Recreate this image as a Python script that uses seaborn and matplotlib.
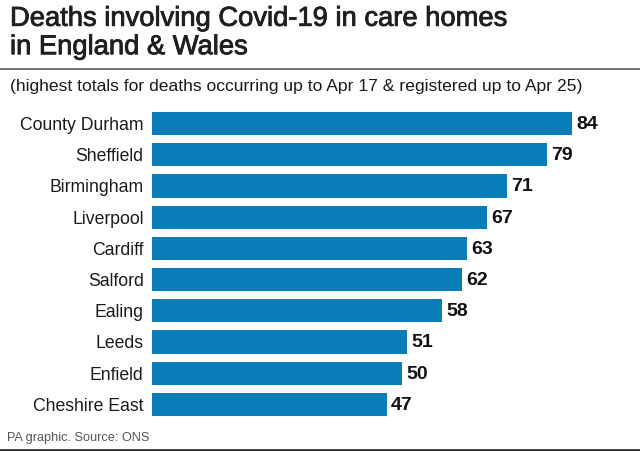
import matplotlib
matplotlib.use('Agg')
import matplotlib.pyplot as plt
import matplotlib.patheffects as pe
import seaborn as sns
import pandas as pd

areas = ['County Durham', 'Sheffield', 'Birmingham', 'Liverpool', 'Cardiff', 'Salford', 'Ealing', 'Leeds', 'Enfield', 'Cheshire East']
deaths = [84, 79, 71, 67, 63, 62, 58, 51, 50, 47]

df = pd.DataFrame({'area': areas, 'deaths': deaths})

sns.set_theme(style='white')
plt.rcParams['font.family'] = ['Liberation Sans', 'DejaVu Sans']

fig = plt.figure(figsize=(6.4, 4.51), dpi=100)
ax = fig.add_axes([152/640, 1 - 420/451, (640-152)/640, (420-108)/451])
sns.barplot(data=df, x='deaths', y='area', color='#0a7db8', width=0.74, saturation=1, linewidth=0, ax=ax)
ax.set_xlim(0, 97.6)
ax.set_ylim(9.5, -0.5)
ax.set_xlabel('')
ax.set_ylabel('')
ax.set_xticks([])
ax.tick_params(axis='y', length=0, pad=6, labelsize=12.7, labelcolor='#1a1a1a')
sns.despine(ax=ax, left=True, bottom=True)

for i, v in enumerate(deaths):
    ax.annotate(str(v), (v, i + 0.03), xytext=(3, 0), textcoords='offset points', va='center', ha='left',
                fontsize=14, fontweight='bold', color='#111111')

# regular weight plus a thin stroke, the title is a medium weight in the original
title = fig.text(10/640, 1 - 33/451, 'Deaths involving Covid-19 in care homes\nin England & Wales', fontsize=19.7,
                 va='center', ha='left', color='#1f1f1f', linespacing=1.12)
title.set_path_effects([pe.withStroke(linewidth=0.6, foreground='#1f1f1f')])
fig.text(10/640, 1 - 87/451, '(highest totals for deaths occurring up to Apr 17 & registered up to Apr 25)', fontsize=12.6,
         va='center', ha='left', color='#1a1a1a')
fig.text(7/640, 1 - 438/451, 'PA graphic. Source: ONS', fontsize=9.2, va='center', ha='left', color='#555555')

fig.add_artist(plt.Line2D([0, 1], [1 - 68.5/451, 1 - 68.5/451], color='#555555', lw=1.2))
fig.add_artist(plt.Line2D([0, 1], [1 - 450/451, 1 - 450/451], color='#333333', lw=2))

fig.savefig('out.png', dpi=100)
